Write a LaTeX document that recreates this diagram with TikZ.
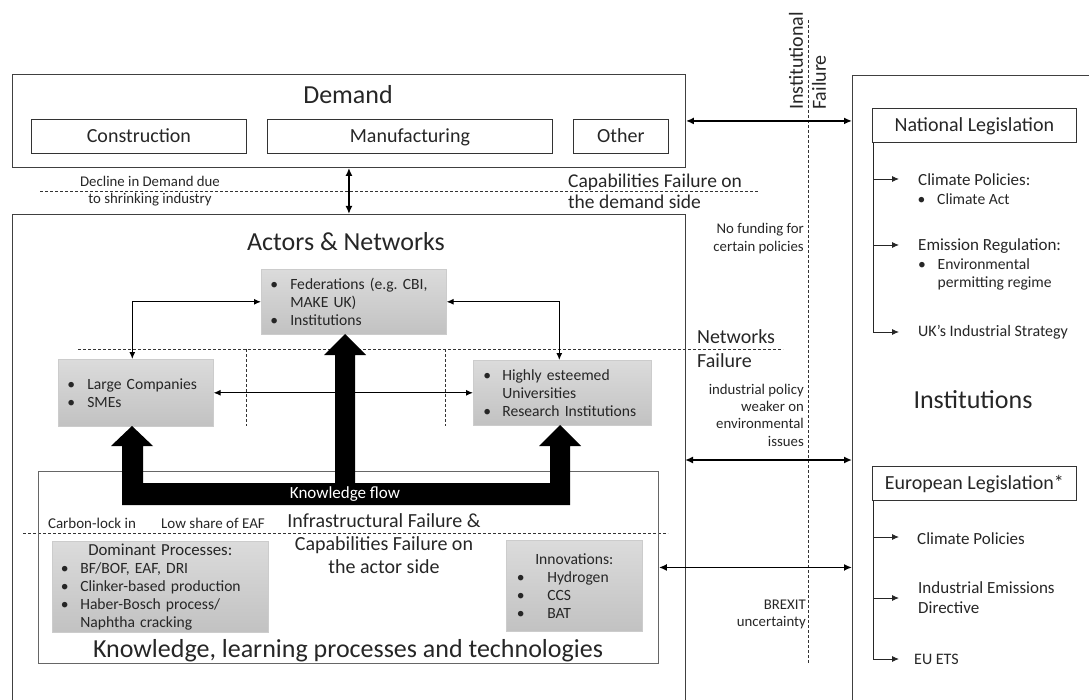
\documentclass[tikz,border=0pt]{standalone}
\usepackage{fontspec}
\setmainfont{Carlito}
\usetikzlibrary{arrows.meta,calc}
\frenchspacing
\newcommand\fsz[2]{\fontsize{#1pt}{#2pt}\selectfont}
\newcommand\bitem[2][20pt]{\makebox[#1][l]{\textbullet}#2}
\newcommand\bcont[2][20pt]{\hspace*{#1}#2}
\begin{document}
\frenchspacing
\begin{tikzpicture}[x=1pt,y=-1pt,
  frame/.style={draw=black!75, line width=0.9pt, inner sep=0pt, anchor=north west},
  subbox/.style={draw=black!80, line width=0.8pt, inner sep=0pt, anchor=north west, font=\fsz{20}{24}, text=black!85, text height=14pt, text depth=2pt},
  greybox/.style={draw=black!20, line width=0.6pt, top color=black!14, bottom color=black!24, anchor=north west, align=left, inner ysep=0pt, font=\fsz{15.6}{18}, text=black!85},
  txt/.style={inner sep=0pt, text=black!85},
  big/.style={txt, font=\fsz{26}{31}},
  mid/.style={txt, font=\fsz{20}{23}},
  item/.style={txt, font=\fsz{17}{20}, anchor=west},
  sub/.style={txt, font=\fsz{15.6}{18}, anchor=west, align=left},
  small/.style={txt, font=\fsz{14.8}{17.3}},
  dbl/.style={{Latex[length=8pt,width=7pt]}-{Latex[length=8pt,width=7pt]}, line width=1.6pt},
  dbls/.style={{Latex[length=7pt,width=6pt]}-{Latex[length=7pt,width=6pt]}, line width=1.1pt},
  branch/.style={-{Latex[length=7pt,width=6pt]}, line width=0.9pt, draw=black!85},
  fail/.style={dash pattern=on 3pt off 2pt, line width=0.7pt, draw=black!80}
]
\useasboundingbox (0,0) rectangle (1089,700);
\clip (0,0) rectangle (1089,700);

% failure dashed lines
\draw[fail] (40,191) -- (758,191);
\draw[fail] (78,349) -- (783,349);
\draw[fail] (246,349) -- (246,426);
\draw[fail] (445,349) -- (445,426);
\draw[fail] (23,533) -- (668,533);
\draw[fail] (808,20) -- (808,663);

% Demand
\node[frame, minimum width=673pt, minimum height=93pt] (demand) at (12,74) {};
\node[big] (demandT) at (348,95) {Demand};
\node[subbox, minimum width=215pt, minimum height=34pt] (constr) at (31,119) {Construction};
\node[subbox, minimum width=285pt, minimum height=34pt] (manuf) at (267,119) {Manufacturing};
\node[subbox, minimum width=95pt, minimum height=34pt] (other) at (573,119) {Other};

% Actors
\node[frame, minimum width=673pt, minimum height=496pt] (actors) at (12,214) {};
\node[big] (actorsT) at (346,242) {Actors \& Networks};

% Institutions
\node[frame, minimum width=260pt, minimum height=640pt] (inst) at (852,75) {};
\node[big] (instT) at (973,400) {Institutions};

% Knowledge box
\node[frame, draw=black!60, minimum width=620pt, minimum height=192pt] (kb) at (38,471) {};
\node[big] (kbT) at (348,651) {Knowledge, learning processes and technologies};

% grey boxes
\node[greybox, text width=167pt, inner xsep=9pt, minimum height=65pt] (fed) at (261,269)
  {\bitem{Federations (e.g.\ CBI,}\\\bcont{MAKE UK)}\\\bitem{Institutions}};
\node[greybox, text width=137pt, inner xsep=9pt, minimum height=67pt] (lc) at (58,359)
  {\bitem{Large Companies}\\\bitem{SMEs}};
\node[greybox, text width=158pt, inner xsep=10pt, minimum height=65pt] (hi) at (473,360)
  {\bitem[19pt]{Highly esteemed}\\\bcont[19pt]{Universities}\\\bitem[19pt]{Research Institutions}};
\node[greybox, text width=199pt, inner xsep=8.5pt, minimum height=91pt] (dom) at (52,541)
  {\makebox[\linewidth]{\fsz{16.8}{18}Dominant Processes:}\\\bitem[19.5pt]{BF/BOF, EAF, DRI}\\\bitem[19.5pt]{Clinker-based production}\\\bitem[19.5pt]{Haber-Bosch process/}\\\bcont[19.5pt]{Naphtha cracking}};
\node[greybox, text width=115pt, inner xsep=10.5pt, minimum height=91pt] (inno) at (506,540)
  {\makebox[\linewidth]{Innovations:}\\\bitem[30.5pt]{Hydrogen}\\\bitem[30.5pt]{CCS}\\\bitem[30.5pt]{BAT}};

% connectors among actors
\draw[dbls] ($(lc.north)+(-3.5,0)$) |- (fed.west);
\draw[dbls] (fed.east) -| ($(hi.north)+(-3,0)$);
\draw[dbls] (lc.east) -- (hi.west);

% knowledge flow band
\fill[black] (122,505) -- (122,446) -- (111,446) -- (132,426) -- (153,446) -- (143,446)
  -- (143,483) -- (335,483) -- (335,355) -- (324,355) -- (345,334) -- (366,355) -- (355,355)
  -- (355,483) -- (550,483) -- (550,446) -- (539,446) -- (560,425) -- (581,446) -- (570,446)
  -- (570,505) -- cycle;
\node[inner sep=0pt, text=white, font=\fsz{17}{20}] (kflow) at (345,494) {Knowledge flow};

% main connectors
\draw[dbl] (demand.south) -- (actors.north);
\draw[dbl] (demand.east) -- (demand.east -| inst.west);
\coordinate (a1) at (685,460);
\draw[dbl] (a1) -- (a1 -| inst.west);
\draw[dbl] (kb.east) -- (kb.east -| inst.west);

% failure labels
\node[small, align=center] (decl) at (150,191) {Decline in Demand due\\to shrinking industry};
\node[mid, align=left, anchor=west, font=\fsz{19.5}{21}] (capd) at (568,191.5) {Capabilities Failure on\\the demand side};
\node[mid, align=left, anchor=west, font=\fsz{20}{24}] (netf) at (697,349) {Networks\\Failure};
\node[mid, align=center, font=\fsz{20}{23}] (infra) at (384,544) {Infrastructural Failure \&\\Capabilities Failure on\\the actor side};
\node[small, font=\fsz{15}{18}] (carb) at (92,523) {Carbon-lock in};
\node[small, font=\fsz{15}{18}] (eaf) at (213,523) {Low share of EAF};
\node[small, align=right, anchor=east] (nofund) at (804,238.5) {No funding for\\certain policies};
\node[small, align=right, anchor=east] (indpol) at (804,415) {industrial policy\\weaker on\\environmental\\issues};
\node[small, align=right, anchor=east] (brexit) at (806,614.5) {BREXIT\\uncertainty};
\node[mid, rotate=90, anchor=west, align=left] (instfail) at (807.5,110) {Institutional\\Failure};

% National legislation
\node[subbox, minimum width=204pt, minimum height=34pt] (nat) at (872,108) {National Legislation};
\coordinate (nb1) at (873,179); \coordinate (nt1) at (899,179);
\coordinate (nb2) at (873,245); \coordinate (nt2) at (899,245);
\coordinate (nt3) at (899,332);
\draw[branch] (nat.south west -| nb1) |- (nt3);
\draw[branch] (nb1) -- (nt1);
\draw[branch] (nb2) -- (nt2);
\node[item] (cp) at (918,180) {Climate Policies:};
\node[sub] (ca) at (917.5,199) {\bitem[19.5pt]{Climate Act}};
\node[item] (er) at (918,246) {Emission Regulation:};
\node[sub] (epr) at (918,274) {\bitem[19.5pt]{Environmental}\\\bcont[19.5pt]{permitting regime}};
\node[item, font=\fsz{16}{19}] (uk) at (918,332) {UK’s Industrial Strategy};

% European legislation
\node[subbox, minimum width=204pt, minimum height=34pt] (eu) at (872,466) {European Legislation*};
\coordinate (eb1) at (873,537); \coordinate (et1) at (899,537);
\coordinate (eb2) at (873,598); \coordinate (et2) at (899,598);
\coordinate (et3) at (899,659);
\draw[branch] (eu.south west -| eb1) |- (et3);
\draw[branch] (eb1) -- (et1);
\draw[branch] (eb2) -- (et2);
\node[item] (ecp) at (917,539) {Climate Policies};
\node[item, align=left] (ied) at (918,598) {Industrial Emissions\\Directive};
\node[item, font=\fsz{16}{19}] (ets) at (914,659) {EU ETS};
\end{tikzpicture}
\end{document}
